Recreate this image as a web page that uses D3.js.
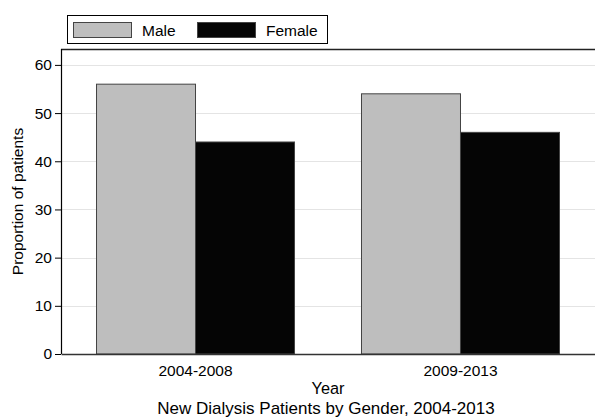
<!DOCTYPE html>
<html><head><meta charset="utf-8">
<script src="https://cdn.jsdelivr.net/npm/d3@7"></script>
<style>body{margin:0;background:#fff}svg{display:block}text{font-family:"Liberation Sans",Arial,sans-serif}</style>
</head><body>
<script>
const categories = ["2004-2008", "2009-2013"];
const seriesNames = ["Male", "Female"];
const maleValues = [56, 54];
const femaleValues = [44, 46];
const yTicks = [0, 10, 20, 30, 40, 50, 60];
const colors = ["#bebebe", "#050505"];

const W = 595, H = 419;
const m = {left: 61, right: 0, top: 49, bottom: 65};
const FS = "15.5px";
const svg = d3.select("body").append("svg").attr("width", W).attr("height", H);
const iw = W - m.left - m.right, ih = H - m.top - m.bottom;
const g = svg.append("g").attr("transform", `translate(${m.left},${m.top})`);

const y = d3.scaleLinear().domain([0, 63.3]).range([ih, 0]);
const x0 = d3.scaleBand().domain(categories).range([0, iw]).paddingInner(0.2528).paddingOuter(0.134);
const x1 = d3.scaleBand().domain(seriesNames).range([0, x0.bandwidth()]);

// gridlines
g.selectAll("line.grid").data(yTicks.slice(1)).join("line")
  .attr("x1", 0).attr("x2", iw).attr("y1", d => Math.round(y(d)) + 0.5).attr("y2", d => Math.round(y(d)) + 0.5)
  .attr("stroke", "#e4e4e4").attr("stroke-width", 1);

// top frame
g.append("line").attr("x1", 0).attr("x2", iw).attr("y1", 0.5).attr("y2", 0.5).attr("stroke", "#222").attr("stroke-width", 1.3);

const data = categories.map((c, i) => ({cat: c, vals: [maleValues[i], femaleValues[i]]}));
const grp = g.selectAll("g.cat").data(data).join("g").attr("transform", d => `translate(${x0(d.cat)},0)`);
grp.selectAll("rect").data(d => d.vals.map((v, j) => ({s: seriesNames[j], v, j}))).join("rect")
  .attr("x", d => x1(d.s)).attr("width", x1.bandwidth())
  .attr("y", d => y(d.v)).attr("height", d => ih - y(d.v))
  .attr("fill", d => colors[d.j]).attr("stroke", "#444").attr("stroke-width", 1);

// axes
const ya = g.append("g").call(d3.axisLeft(y).tickValues(yTicks).tickSize(6).tickSizeOuter(0));
ya.attr("font-size", null).attr("font-family", null);
ya.select(".domain").attr("stroke", "#000").attr("stroke-width", 1.2).attr("d", `M0.5,${ih}V0`);
ya.selectAll(".tick line").attr("stroke", "#000");
ya.selectAll(".tick text").style("font-size", FS).attr("fill", "#000");

const xa = g.append("g").attr("transform", `translate(0,${ih})`).call(d3.axisBottom(x0).tickSize(0).tickPadding(0));
xa.attr("font-size", null).attr("font-family", null);
xa.select(".domain").attr("stroke", "#333").attr("stroke-width", 1.5);
xa.selectAll(".tick text").style("font-size", FS).attr("fill", "#000").attr("dy", null).attr("y", 22);

// labels
svg.append("text").attr("x", 328).attr("y", 394).attr("text-anchor", "middle").style("font-size", "16.3px").text("Year");
svg.append("text").attr("x", 326).attr("y", 414).attr("text-anchor", "middle").style("font-size", "17px").text("New Dialysis Patients by Gender, 2004-2013");
svg.append("text").attr("transform", `translate(23,${m.top + ih / 2}) rotate(-90)`).attr("text-anchor", "middle").style("font-size", FS).text("Proportion of patients");

// legend
const lg = svg.append("g");
lg.append("rect").attr("x", 67.5).attr("y", 15.5).attr("width", 260).attr("height", 28).attr("fill", "#fff").attr("stroke", "#000").attr("stroke-width", 1);
const items = lg.selectAll("g.item").data(seriesNames).join("g").attr("transform", (d, i) => `translate(${[73, 197][i]},22)`);
items.append("rect").attr("x", 0.5).attr("y", 0.5).attr("width", 58).attr("height", 15).attr("fill", (d, i) => colors[i]).attr("stroke", "#444");
items.append("text").attr("x", 69).attr("y", 14).style("font-size", FS).text(d => d);
</script>
</body></html>
